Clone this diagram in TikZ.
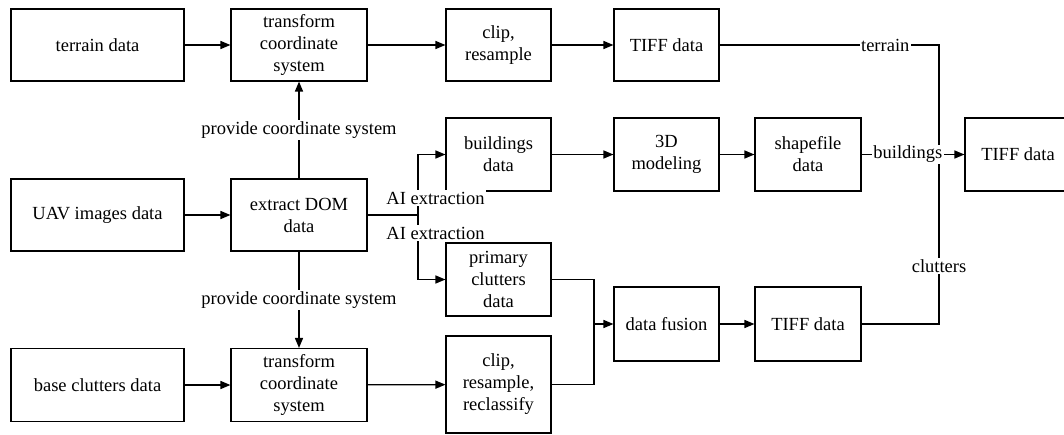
\documentclass[tikz,border=0pt]{standalone}
\usepackage{fontspec}
\setmainfont{Liberation Serif}
\usetikzlibrary{arrows}

\begin{document}
\begin{tikzpicture}[x=1pt,y=-1pt]
\tikzstyle{box} = [draw, line width=1.3pt, align=center, inner sep=1pt, font=\fontsize{18.5}{22}\selectfont]
\tikzstyle{arrow} = [line width=1.3pt,->,>=triangle 45]
\tikzstyle{line} = [line width=1.3pt]
\tikzstyle{lbl} = [fill=white, inner sep=1.5pt, font=\fontsize{18.5}{22}\selectfont]

\useasboundingbox (0,0) rectangle (1064,434);

%Input data on the left
\node[box, minimum width=173, minimum height=72] (terrain) at (97.5,45) {terrain data};
\node[box, minimum width=173, minimum height=72] (uav) at (97.5,215) {UAV images data};
\node[box, minimum width=173, minimum height=73] (base) at (97.5,385) {base clutters data};

%Second column
\node[box, minimum width=136, minimum height=72] (trans1) at (299,45) {transform\\coordinate\\system};
\node[box, minimum width=136, minimum height=72] (dom) at (299,215) {extract DOM\\data};
\node[box, minimum width=136, minimum height=73] (trans2) at (299,385) {transform\\coordinate\\system};

%Third column
\node[box, minimum width=105, minimum height=72] (clip1) at (498.5,45) {clip,\\resample};
\node[box, minimum width=105, minimum height=73] (bldg) at (498.5,154.5) {buildings\\data};
\node[box, minimum width=105, minimum height=73] (prim) at (498.5,279.5) {primary\\clutters\\data};
\node[box, minimum width=105, minimum height=97] (clip2) at (498.5,384.5) {clip,\\resample,\\reclassify};

%Fourth column
\node[box, minimum width=105, minimum height=72] (tiff1) at (666.5,45) {TIFF data};
\node[box, minimum width=105, minimum height=73] (model) at (666.5,154.5) {3D\\modeling};
\node[box, minimum width=105, minimum height=74] (fusion) at (666.5,324) {data fusion};

%Fifth column and output
\node[box, minimum width=106, minimum height=73] (shape) at (808,154.5) {shapefile\\data};
\node[box, minimum width=106, minimum height=74] (tiff3) at (808,324) {TIFF data};
\node[box, minimum width=106, minimum height=73] (tiff2) at (1018,154.5) {TIFF data};

%Junction points
\coordinate (j1) at (418,215);
\coordinate (j2) at (594,324);
\coordinate (j3) at (939,154.5);
\coordinate (c1) at (939,45);
\coordinate (c3) at (939,324);

%Terrain branch
\draw[arrow] (terrain) -- (trans1);
\draw[arrow] (trans1) -- (clip1);
\draw[arrow] (clip1) -- (tiff1);

%DOM provides coordinate system
\draw[arrow] (uav) -- (dom);
\draw[arrow] (dom) -- node[lbl] {provide coordinate system} (trans1);
\draw[arrow] (dom) -- node[lbl] {provide coordinate system} (trans2);

%AI extraction
\draw[line] (dom.east) -- (j1);
\draw[arrow] (j1) |- (bldg.west);
\draw[arrow] (j1) |- (prim.west);
\node[lbl] (ai1) at (435.5,198) {AI extraction};
\node[lbl] (ai2) at (435.5,233) {AI extraction};

%Buildings branch
\draw[arrow] (bldg) -- (model);
\draw[arrow] (model) -- (shape);

%Clutters branch
\draw[arrow] (base) -- (trans2);
\draw[arrow] (trans2) -- (clip2);
\draw[line] (prim.east) -| (j2);
\draw[line] (clip2.east) -| (j2);
\draw[arrow] (j2) -- (fusion);
\draw[arrow] (fusion) -- (tiff3);

%Merge into final TIFF
\draw[line] (tiff1.east) -- node[lbl, pos=0.755] {terrain} (c1) -- (j3);
\draw[line] (tiff3.east) -- (c3) -- node[lbl, pos=0.34] {clutters} (j3);
\draw[arrow] (shape.east) -- node[lbl, pos=0.45] {buildings} (tiff2.west);

\end{tikzpicture}
\end{document}
